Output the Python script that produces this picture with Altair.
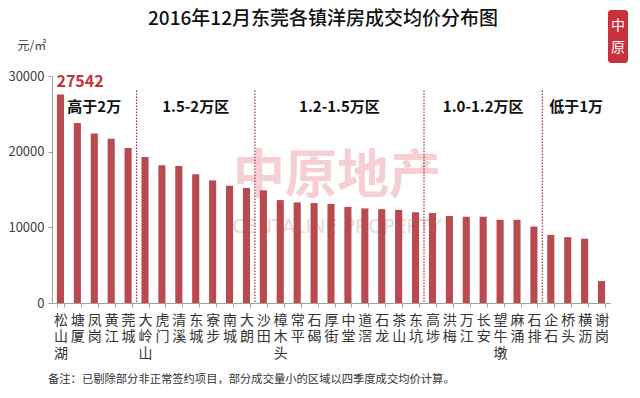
import altair as alt
import numpy as np
import pandas as pd

towns = ["松山湖", "塘厦", "凤岗", "黄江", "莞城",
         "大岭山", "虎门", "清溪", "东城", "寮步", "南城", "大朗",
         "沙田", "樟木头", "常平", "石碣", "厚街", "中堂", "道滘", "石龙", "茶山", "东坑",
         "高埗", "洪梅", "万江", "长安", "望牛墩", "麻涌", "石排",
         "企石", "桥头", "横沥", "谢岗"]
prices = [27542, 23800, 22400, 21700, 20500,
          19300, 18200, 18100, 17000, 16200, 15500, 15200,
          14900, 13600, 13300, 13200, 13100, 12700, 12500, 12400, 12300, 12000,
          11900, 11500, 11400, 11400, 11000, 11000, 10100,
          9000, 8700, 8500, 2900]
region_names = ["高于2万", "1.5-2万区", "1.2-1.5万区", "1.0-1.2万区", "低于1万"]
region_sizes = [5, 7, 10, 7, 4]
y_ticks = [0, 5000, 10000, 15000, 20000, 25000, 30000]

title_text = "2016年12月东莞各镇洋房成交均价分布图"
note_text = "备注：已剔除部分非正常签约项目，部分成交量小的区域以四季度成交均价计算。"
unit_text = "元/㎡"

BAR = "#B84A50"
RED = "#C8323C"
FONT = "Noto Sans CJK SC"
LABEL_Y = 25900
DIV_TOP = 28100

df = pd.DataFrame({"town": towns, "price": prices})
ends = np.cumsum(region_sizes)
starts = ends - np.array(region_sizes)
reg_df = pd.DataFrame({"name": region_names, "mid": (starts + ends) / 2.0})
div_df = pd.DataFrame({"pos": ends[:-1]})
n = len(towns)

xband = alt.X("town:N", sort=towns,
              scale=alt.Scale(paddingInner=0.58, paddingOuter=0.29),
              axis=alt.Axis(title=None, labelAngle=0, labelExpr="split(datum.label, '')",
                            labelLineHeight=16.5, labelFontSize=14, labelFont=FONT,
                            labelColor="#333333", labelPadding=6, labelBaseline="top",
                            tickBand="extent", tickSize=4, tickColor="#a0a0a0",
                            domainColor="#a0a0a0"))
yq = alt.Y("price:Q", scale=alt.Scale(domain=[0, 30000], nice=False),
           axis=alt.Axis(values=y_ticks, format="d", grid=False, tickSize=4,
                         tickColor="#a0a0a0", domainColor="#a0a0a0", labelFontSize=13,
                         labelFont=FONT, labelColor="#404040", labelPadding=4,
                         title=unit_text, titleAngle=0, titleX=-35, titleY=-31,
                         titleAlign="left", titleBaseline="middle", titleFontSize=12,
                         titleFontWeight="normal", titleFont=FONT, titleColor="#404040"))


def xq(field):
    return alt.X(f"{field}:Q", scale=alt.Scale(domain=[0, n], nice=False, zero=False),
                 axis=None)


one = pd.DataFrame({"t": [0]})

watermark = alt.Chart(one).mark_text(
    text="中原地产", font=FONT, fontSize=52, fontWeight="bold", color="#F0A8B4",
    opacity=0.55, align="center", baseline="middle"
).encode(x=alt.value(285), y=alt.value(101))
watermark2 = alt.Chart(one).mark_text(
    text="CENTALINE PROPERTY", font="DejaVu Sans", fontSize=19, color="#E6CDD2",
    opacity=0.8, align="center", baseline="middle"
).encode(x=alt.value(285), y=alt.value(151))

bars = alt.Chart(df).mark_bar(color=BAR).encode(x=xband, y=yq)

top_label = alt.Chart(df).transform_filter(
    alt.datum.price == max(prices)
).mark_text(color=RED, fontSize=16, fontWeight="bold", font=FONT,
            align="left", baseline="bottom", dx=-4, dy=-5).encode(
    x=xband, y=yq, text=alt.Text("price:Q", format="d"))

main = alt.layer(bars, top_label)

dividers = alt.Chart(div_df).mark_rule(
    color="#A0303A", strokeDash=[1.5, 1.5], strokeWidth=1.2
).encode(x=xq("pos"), y=alt.datum(DIV_TOP), y2=alt.datum(0))

region_labels = alt.Chart(reg_df).mark_text(
    font=FONT, fontSize=15, fontWeight="bold", color="#111111",
    align="center", baseline="middle"
).encode(x=xq("mid"), y=alt.datum(LABEL_Y), text="name:N")

title = alt.Chart(one).mark_text(
    text=title_text, font=FONT, fontSize=19, fontWeight=500, color="#111111",
    align="center", baseline="middle"
).encode(x=alt.value(271), y=alt.value(-57))

note = alt.Chart(one).mark_text(
    text=note_text, font=FONT, fontSize=11.3, color="#333333",
    align="left", baseline="middle"
).encode(x=alt.value(-4), y=alt.value(304))

logo = alt.Chart(one).mark_rect(color=RED, cornerRadius=3).encode(
    x=alt.value(556), x2=alt.value(576), y=alt.value(-66), y2=alt.value(-13))
logo_text = alt.Chart(one).mark_text(
    text=["中", "原"], font=FONT, fontSize=14, color="white", lineHeight=22,
    align="center", baseline="middle"
).encode(x=alt.value(566), y=alt.value(-50))

chart = alt.layer(
    watermark, watermark2, main, dividers, region_labels,
    title, note, logo, logo_text
).resolve_scale(x="independent").properties(
    width=558, height=227,
    autosize=alt.AutoSizeParams(type="none"),
    padding={"left": 44, "top": 68, "right": 22, "bottom": 87},
    background="white"
).configure_view(stroke=None)

chart.save("out.html", embed_options={"renderer": "svg", "actions": False})
